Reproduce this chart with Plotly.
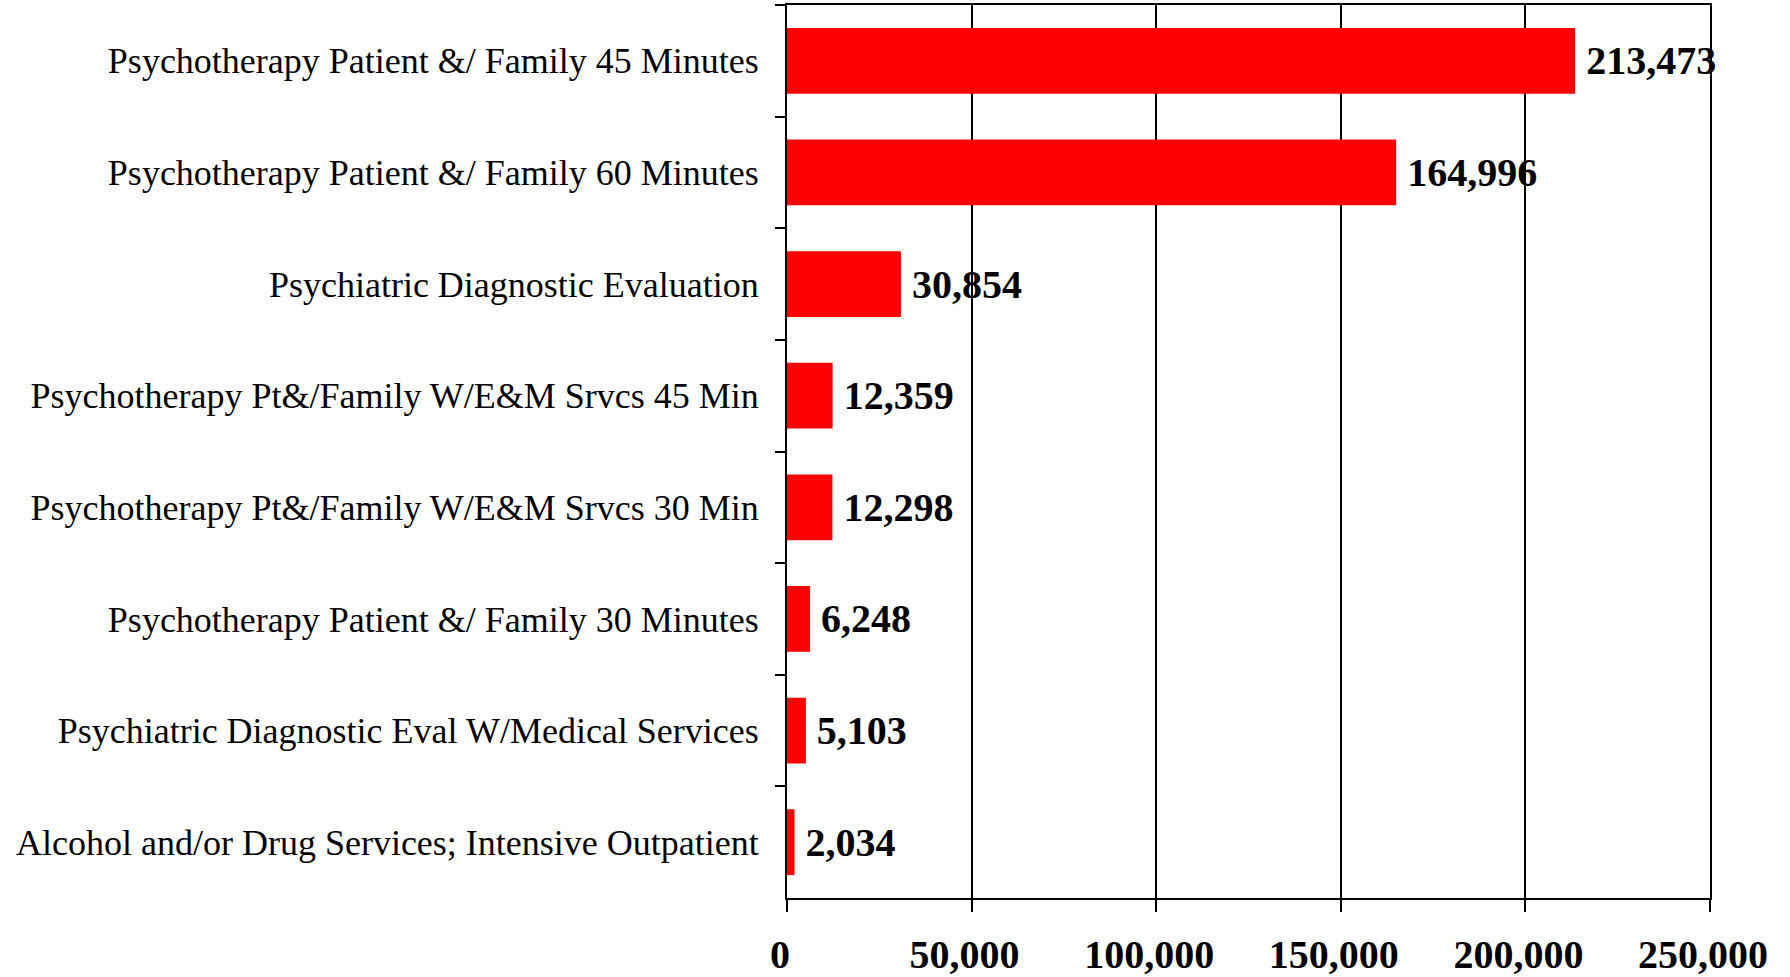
import plotly.graph_objects as go

categories = [
    "Psychotherapy Patient &/ Family 45 Minutes",
    "Psychotherapy Patient &/ Family 60 Minutes",
    "Psychiatric Diagnostic Evaluation",
    "Psychotherapy Pt&/Family W/E&M Srvcs 45 Min",
    "Psychotherapy Pt&/Family W/E&M Srvcs 30 Min",
    "Psychotherapy Patient &/ Family 30 Minutes",
    "Psychiatric Diagnostic Eval W/Medical Services",
    "Alcohol and/or Drug Services; Intensive Outpatient",
]
values = [213473, 164996, 30854, 12359, 12298, 6248, 5103, 2034]
x_ticks = [0, 50000, 100000, 150000, 200000, 250000]
x_tick_labels = ["0", "50,000", "100,000", "150,000", "200,000", "250,000"]

FONT = "Liberation Serif, Times New Roman, serif"

fig = go.Figure(
    go.Bar(
        y=categories,
        x=values,
        orientation="h",
        marker=dict(color="#FF0000", line=dict(width=0)),
        text=["\u2009" + f"{v:,}" for v in values],
        textposition="outside",
        textfont=dict(family=FONT, size=40, color="black", weight="bold"),
        constraintext="none",
        cliponaxis=False,
        hoverinfo="skip",
    )
)

fig.update_layout(
    width=1790,
    height=977,
    margin=dict(l=787, r=80, t=5, b=79, autoexpand=False),
    plot_bgcolor="white",
    paper_bgcolor="white",
    bargap=0.41,
    showlegend=False,
    font=dict(family=FONT, color="black"),
)

fig.update_xaxes(
    range=[0, 250000],
    tickvals=x_ticks,
    ticktext=x_tick_labels,
    tickfont=dict(family=FONT, size=40, color="black", weight="bold"),
    showgrid=True,
    gridcolor="black",
    gridwidth=1.5,
    showline=True,
    linecolor="black",
    linewidth=2,
    mirror=True,
    ticks="outside",
    ticklen=12,
    tickwidth=2,
    tickcolor="black",
    zeroline=False,
    automargin=False,
    ticklabelstandoff=8,
    ticklabelshift=-7,
)

fig.update_yaxes(
    categoryorder="array",
    categoryarray=categories,
    autorange="reversed",
    tickfont=dict(family=FONT, size=36, color="black"),
    showline=True,
    linecolor="black",
    linewidth=2,
    mirror=True,
    ticks="outside",
    ticklen=10,
    tickwidth=2,
    tickcolor="black",
    tickson="boundaries",
    showgrid=False,
    automargin=False,
    ticklabelstandoff=19,
)

fig.write_html(
    "out.html",
    config={"displayModeBar": False},
    post_script="document.body.style.margin='0';document.body.style.overflow='hidden';",
)
